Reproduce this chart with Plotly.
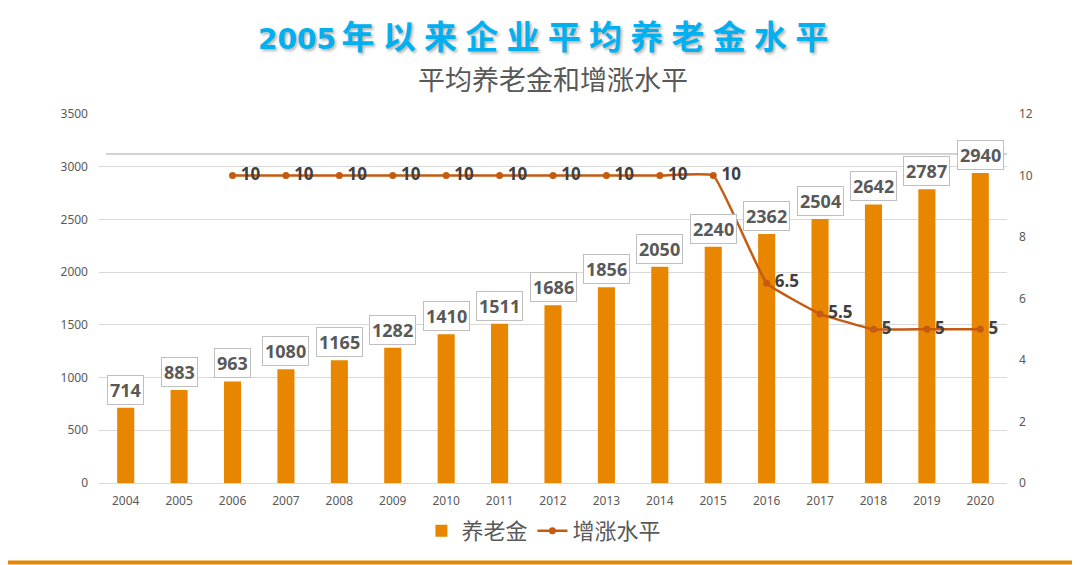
import plotly.graph_objects as go

years = [str(y) for y in range(2004, 2021)]
pension = [714, 883, 963, 1080, 1165, 1282, 1410, 1511, 1686, 1856, 2050, 2240, 2362, 2504, 2642, 2787, 2940]
rate_years = [str(y) for y in range(2006, 2021)]
rate = [10, 10, 10, 10, 10, 10, 10, 10, 10, 10, 6.5, 5.5, 5, 5, 5]
rate_labels = ["10", "10", "10", "10", "10", "10", "10", "10", "10", "10", "6.5", "5.5", "5", "5", "5"]

BAR_COLOR = "#E88600"
LINE_COLOR = "#C55A11"
GRAY = "#595959"
FONT = "Noto Sans, Noto Sans CJK SC, sans-serif"
CJK = "Noto Sans CJK SC, sans-serif"

fig = go.Figure()
fig.add_trace(go.Bar(
    x=years, y=pension, name="养老金",
    marker=dict(color=BAR_COLOR, line=dict(width=0)),
    width=0.32,
))
fig.add_trace(go.Scatter(
    x=rate_years, y=rate, name="增涨水平", yaxis="y2",
    mode="lines+markers+text",
    line=dict(color=LINE_COLOR, width=2.5, shape="spline", smoothing=0.3),
    marker=dict(color=LINE_COLOR, size=7),
    text=["\u2009" + t for t in rate_labels], textposition="middle right",
    textfont=dict(family=FONT, size=17, color="#404040", weight="bold"),
    cliponaxis=False,
))

annotations = []
for i, v in enumerate(pension):
    annotations.append(dict(
        x=i, y=v, xref="x", yref="y", text=str(v), showarrow=False,
        yanchor="bottom", yshift=3,
        font=dict(family=FONT, size=18, color=GRAY, weight="bold"),
        bgcolor="white", bordercolor="#BFBFBF", borderwidth=1, borderpad=2,
    ))

title_text = ('<span style="font-family:DejaVu Sans;font-size:28px">2005</span>\u2006'
              + "\u2005".join("年以来企业平均养老金水平"))
annotations.append(dict(
    x=0.489, y=1.215, xref="paper", yref="paper", text=title_text, showarrow=False,
    xanchor="center", yanchor="middle",
    font=dict(family=CJK, size=33, color="#00B0F0", weight="bold",
              shadow="2px 2px 3px rgba(0,0,0,0.3)"),
))
annotations.append(dict(
    x=0.5, y=1.095, xref="paper", yref="paper", text="平均养老金和增涨水平", showarrow=False,
    xanchor="center", yanchor="middle",
    font=dict(family=CJK, size=27, color=GRAY),
))

shapes = [
    dict(type="line", xref="paper", yref="paper", x0=0.0077, x1=1.0, y0=0.8916, y1=0.8916,
         line=dict(color="#A6A6A6", width=1)),
    dict(type="line", xref="paper", yref="paper", x0=-0.12, x1=1.09, y0=-0.2155, y1=-0.2155,
         line=dict(color="#E88600", width=4)),
]

fig.update_layout(
    width=1080, height=565,
    margin=dict(l=91, r=81, t=106, b=90),
    paper_bgcolor="white", plot_bgcolor="white",
    font=dict(family=FONT, color=GRAY, size=12),
    showlegend=True,
    legend=dict(orientation="h", x=0.49, xanchor="center", y=-0.13, yanchor="middle",
                font=dict(family=CJK, size=22, color=GRAY), itemwidth=30),
    xaxis=dict(type="category", showgrid=False, ticks="", showline=False,
               tickfont=dict(size=12, color=GRAY), range=[-0.5, 16.5], ticklabelstandoff=9),
    yaxis=dict(range=[0, 3500], dtick=500, showgrid=True, gridcolor="#D9D9D9", gridwidth=1,
               zeroline=True, zerolinecolor="#D9D9D9", zerolinewidth=1,
               tickfont=dict(size=12, color=GRAY), ticklabelstandoff=10),
    yaxis2=dict(range=[0, 12], dtick=2, overlaying="y", side="right", showgrid=False,
                zeroline=False, tickfont=dict(size=12, color=GRAY), ticklabelstandoff=11),
    annotations=annotations,
    shapes=shapes,
)

fig.write_html("out.html")
